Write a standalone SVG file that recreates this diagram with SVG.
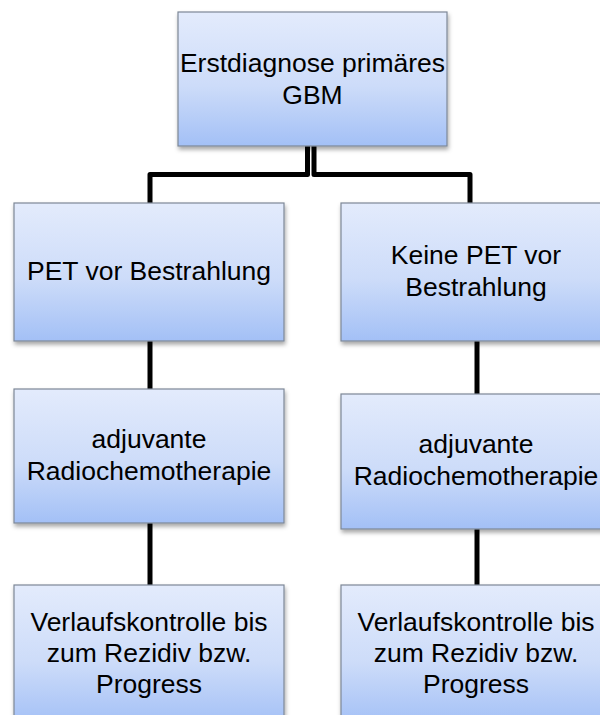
<svg xmlns="http://www.w3.org/2000/svg" width="600" height="715" viewBox="0 0 600 715">
<defs>
<linearGradient id="g" x1="0" y1="0" x2="0" y2="1">
<stop offset="0" stop-color="#e3ebfc"/>
<stop offset="0.55" stop-color="#cddcf9"/>
<stop offset="1" stop-color="#a3c0f6"/>
</linearGradient>
<filter id="sh" x="-10%" y="-10%" width="125%" height="130%">
<feDropShadow dx="1" dy="3" stdDeviation="2" flood-color="#000" flood-opacity="0.35"/>
</filter>
</defs>
<style>
.box{fill:url(#g);stroke:#7d8797;stroke-width:1.2;filter:url(#sh)}
.t{font-family:"Liberation Sans",Arial,sans-serif;font-size:26.5px;fill:#000;text-anchor:middle}
.c{fill:none;stroke:#000;stroke-width:5;stroke-linejoin:round}
</style>
<rect width="600" height="715" fill="#fff"/>
<g id="connectors">
<path class="c" d="M307.5 146 V174.5 H150 V203"/>
<path class="c" d="M314 146 V174.5 H470 V203"/>
<path class="c" d="M150 341 V389"/>
<path class="c" d="M477 341 V394"/>
<path class="c" d="M150 523 V585"/>
<path class="c" d="M477 529 V585"/>
</g>
<g id="n1">
<rect class="box" x="178" y="12" width="269" height="134"/>
<text class="t" x="312.5" y="72">Erstdiagnose primäres</text>
<text class="t" x="312.5" y="104">GBM</text>
</g>
<g id="n2">
<rect class="box" x="14" y="203" width="270" height="138"/>
<text class="t" x="149" y="280">PET vor Bestrahlung</text>
</g>
<g id="n3">
<rect class="box" x="341" y="203" width="270" height="138"/>
<text class="t" x="476" y="264">Keine PET vor</text>
<text class="t" x="476" y="296">Bestrahlung</text>
</g>
<g id="n4">
<rect class="box" x="14" y="389" width="270" height="134"/>
<text class="t" x="149" y="448">adjuvante</text>
<text class="t" x="149" y="480">Radiochemotherapie</text>
</g>
<g id="n5">
<rect class="box" x="341" y="394" width="270" height="135"/>
<text class="t" x="476" y="453">adjuvante</text>
<text class="t" x="476" y="485">Radiochemotherapie</text>
</g>
<g id="n6">
<rect class="box" x="14" y="585" width="270" height="140"/>
<text class="t" x="149" y="631">Verlaufskontrolle bis</text>
<text class="t" x="149" y="662">zum Rezidiv bzw.</text>
<text class="t" x="149" y="693">Progress</text>
</g>
<g id="n7">
<rect class="box" x="341" y="585" width="270" height="140"/>
<text class="t" x="476" y="631">Verlaufskontrolle bis</text>
<text class="t" x="476" y="662">zum Rezidiv bzw.</text>
<text class="t" x="476" y="693">Progress</text>
</g>
</svg>
